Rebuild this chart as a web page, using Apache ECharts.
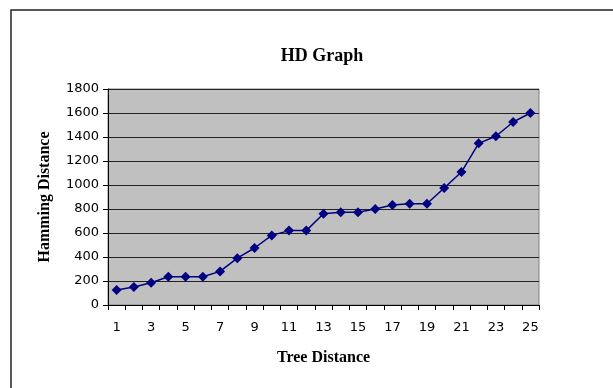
<!DOCTYPE html>
<html><head><meta charset="utf-8">
<script src="https://cdn.jsdelivr.net/npm/echarts@6/dist/echarts.min.js"></script>
<style>html,body{margin:0;padding:0;background:#fff}#c{width:613px;height:388px}</style>
</head><body><div id="c"></div>
<script>
const categories = ['1','2','3','4','5','6','7','8','9','10','11','12','13','14','15','16','17','18','19','20','21','22','23','24','25'];
const hammingValues = [125,150,185,235,235,235,280,390,475,580,620,620,760,772,772,800,833,844,844,975,1108,1347,1406,1525,1600];
const yTicks = {min:0, max:1800, interval:200};

const chart = echarts.init(document.getElementById('c'), null, {renderer:'canvas'});
chart.setOption({
  animation:false,
  backgroundColor:'#fff',
  graphic:[{type:'rect', shape:{x:11, y:10, width:640, height:420}, style:{fill:'none', stroke:'#222', lineWidth:1.5}, z:-1}],
  title:{text:'HD Graph', left:317, top:42, textAlign:'center',
    textStyle:{fontFamily:'Liberation Serif', fontWeight:'bold', fontSize:18, color:'#000'}},
  grid:{left:108, top:89, right:74, bottom:83, show:true, backgroundColor:'#c0c0c0', borderColor:'#808080', borderWidth:1},
  xAxis:{type:'category', data:categories, boundaryGap:true,
    name:'Tree Distance', nameLocation:'middle', nameGap:45,
    nameTextStyle:{fontFamily:'Liberation Serif', fontWeight:'bold', fontSize:16, color:'#000'},
    axisLine:{lineStyle:{color:'#000', width:1}},
    axisTick:{show:true, alignWithLabel:false, interval:0, length:5, lineStyle:{color:'#000'}},
    axisLabel:{interval:1, margin:16, fontFamily:'DejaVu Sans', fontSize:13, color:'#000'},
    splitLine:{show:false}},
  yAxis:{type:'value', min:yTicks.min, max:yTicks.max, interval:yTicks.interval,
    name:'Hamming Distance', nameLocation:'middle', nameGap:55,
    nameTextStyle:{fontFamily:'Liberation Serif', fontWeight:'bold', fontSize:16, color:'#000'},
    axisLine:{show:true, lineStyle:{color:'#000', width:1}},
    axisTick:{show:true, length:5, lineStyle:{color:'#000'}},
    axisLabel:{margin:9, fontFamily:'DejaVu Sans', fontSize:13, color:'#000', formatter:(v)=>String(v)},
    splitLine:{show:true, lineStyle:{color:'#222', width:1}}},
  series:[{type:'line', data:hammingValues, symbol:'diamond', symbolSize:10,
    lineStyle:{color:'#000080', width:1.5}, itemStyle:{color:'#000080'}}]
});
</script></body></html>
